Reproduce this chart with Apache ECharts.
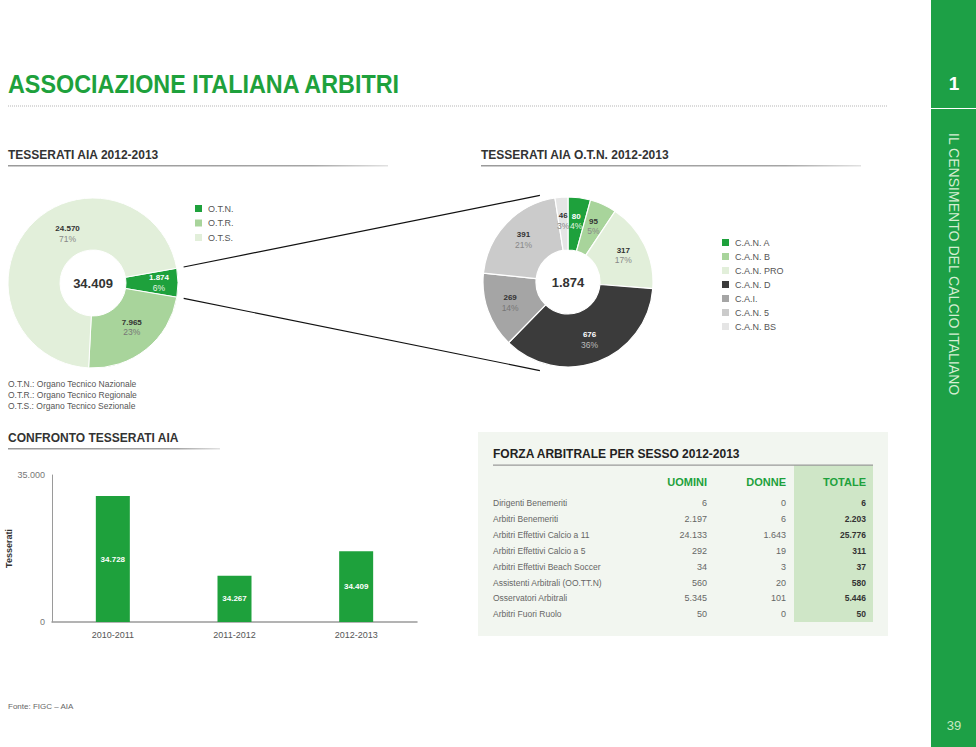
<!DOCTYPE html>
<html><head><meta charset="utf-8">
<script src="https://cdn.jsdelivr.net/npm/echarts@6/dist/echarts.min.js"></script>
<style>html,body{margin:0;padding:0;background:#fff}#c{width:976px;height:747px}</style>
</head><body><div id="c"></div>
<script>
// ---------- DATA ----------
const aiaCategories = ['O.T.N.', 'O.T.R.', 'O.T.S.'];
const aiaValues = [1874, 7965, 24570];
const otnCategories = ['C.A.N. A', 'C.A.N. B', 'C.A.N. PRO', 'C.A.N. D', 'C.A.I.', 'C.A.N. 5', 'C.A.N. BS'];
const otnValues = [80, 95, 317, 676, 269, 391, 46];
const seasonCategories = ['2010-2011', '2011-2012', '2012-2013'];
const seasonValues = [34728, 34267, 34409];
const yTickLabels = ['0', '35.000'];
const tableHeaders = ['UOMINI', 'DONNE', 'TOTALE'];
const tableRows = ['Dirigenti Benemeriti', 'Arbitri Benemeriti', 'Arbitri Effettivi Calcio a 11', 'Arbitri Effettivi Calcio a 5', 'Arbitri Effettivi Beach Soccer', 'Assistenti Arbitrali (OO.TT.N)', 'Osservatori Arbitrali', 'Arbitri Fuori Ruolo'];
const uominiValues = [6, 2197, 24133, 292, 34, 560, 5345, 50];
const donneValues = [0, 6, 1643, 19, 3, 20, 101, 0];
const totaleValues = [6, 2203, 25776, 311, 37, 580, 5446, 50];
const notes = ['O.T.N.: Organo Tecnico Nazionale', 'O.T.R.: Organo Tecnico Regionale', 'O.T.S.: Organo Tecnico Sezionale'];

// ---------- STYLE ----------
const FONT = "'Liberation Sans', Arial, Helvetica, sans-serif";
const GREEN = '#1ea13c';
const aiaColors = [GREEN, '#a8d49b', '#e2efda'];
const aiaLabelColors = [['#ffffff', '#e8f5e4'], ['#333333', '#777777'], ['#333333', '#888888']];
const aiaLabelShift = [[4, 0], [0, -4], [21, -8]];
const otnColors = [GREEN, '#a8d49b', '#e2efda', '#3b3b3b', '#a5a5a5', '#cbcbcb', '#e5e5e5'];
const otnLabelColors = [['#ffffff', '#e8f5e4'], ['#333333', '#888888'], ['#333333', '#888888'], ['#ffffff', '#bbbbbb'], ['#333333', '#777777'], ['#333333', '#888888'], ['#333333', '#888888']];
const P1 = { c: [93, 283], r: [33, 85] };
const P2 = { c: [568, 282], r: [32, 85] };

const fmt = v => String(v).replace(/\B(?=(\d{3})+(?!\d))/g, '.');
const sum = a => a.reduce((s, v) => s + v, 0);

function pieData(names, values, colors, lblColors) {
  return names.map((n, i) => ({
    name: n, value: values[i],
    itemStyle: { color: colors[i] },
    label: { rich: {
      v: { fontSize: 8, fontWeight: 'bold', color: lblColors[i][0], fontFamily: FONT, lineHeight: 10 },
      p: { fontSize: 8.5, color: lblColors[i][1], fontFamily: FONT, lineHeight: 10 }
    } }
  }));
}
const pieLabel = {
  show: true, position: 'inside',
  formatter: p => '{v|' + fmt(p.value) + '}\n{p|' + p.percent + '%}'
};

// ---------- GRAPHIC ----------
const g = [];

// sidebar
g.push({ type: 'rect', shape: { x: 931, y: 0, width: 45, height: 747 }, style: { fill: '#1da046' }, z: 0 });
g.push({ type: 'line', shape: { x1: 931, y1: 108.5, x2: 976, y2: 108.5 }, style: { stroke: '#ffffff', lineWidth: 1 } });
g.push({ type: 'text', x: 954, y: 83, style: { text: '1', font: 'bold 19px ' + FONT, fill: '#ffffff', textAlign: 'center', textVerticalAlign: 'middle' } });
g.push({ type: 'text', x: 954, y: 133, rotation: -Math.PI / 2, scaleX: 0.97, style: { text: 'IL CENSIMENTO DEL CALCIO ITALIANO', font: '14.5px ' + FONT, fill: '#d6eed2', textAlign: 'left', textVerticalAlign: 'middle' } });
g.push({ type: 'text', x: 954, y: 725, style: { text: '39', font: '13px ' + FONT, fill: '#c8e8c2', textAlign: 'center', textVerticalAlign: 'middle' } });

// title
g.push({ type: 'text', x: 8, y: 84, scaleX: 0.935, style: { text: 'ASSOCIAZIONE ITALIANA ARBITRI', font: 'bold 25px ' + FONT, fill: GREEN, textVerticalAlign: 'middle' } });
g.push({ type: 'line', shape: { x1: 8, y1: 106, x2: 888, y2: 106 }, style: { stroke: '#b5b5b5', lineWidth: 1, lineDash: [1, 1] } });

// section titles
function section(x, y, w, text) {
  g.push({ type: 'text', x: x, y: y, style: { text: text, font: 'bold 12px ' + FONT, fill: '#333333', textVerticalAlign: 'middle' } });
  g.push({ type: 'rect', shape: { x: x, y: y + 10, width: w, height: 1.5 }, style: { fill: new echarts.graphic.LinearGradient(0, 0, 1, 0, [{ offset: 0, color: '#9a9a9a' }, { offset: 0.8, color: '#a5a5a5' }, { offset: 1, color: '#e2e2e2' }]) } });
}
section(8, 155, 380, 'TESSERATI AIA 2012-2013');
section(481, 155, 380, 'TESSERATI AIA O.T.N. 2012-2013');
section(8, 438, 212, 'CONFRONTO TESSERATI AIA');

// notes and source
notes.forEach((n, i) => g.push({ type: 'text', x: 8, y: 384 + i * 11, style: { text: n, font: '8.5px ' + FONT, fill: '#555555', textVerticalAlign: 'middle' } }));
g.push({ type: 'text', x: 8, y: 706, style: { text: 'Fonte: FIGC – AIA', font: '8px ' + FONT, fill: '#666666', textVerticalAlign: 'middle' } });

// pie centre totals
g.push({ type: 'text', x: P1.c[0], y: P1.c[1], z: 10, style: { text: fmt(sum(aiaValues)), font: 'bold 13px ' + FONT, fill: '#333333', textAlign: 'center', textVerticalAlign: 'middle' } });
g.push({ type: 'text', x: P2.c[0], y: P2.c[1], z: 10, style: { text: fmt(sum(otnValues)), font: 'bold 13px ' + FONT, fill: '#333333', textAlign: 'center', textVerticalAlign: 'middle' } });

// connector lines from O.T.N. slice to second pie
(function () {
  const half = aiaValues[0] / sum(aiaValues) * Math.PI; // half slice angle (rad)
  const startA = 10 * Math.PI / 180;
  const mid = startA - half;
  const rOut = P1.r[1] + 7;
  const a1 = mid + half, a2 = mid - half;
  const s1 = [P1.c[0] + rOut * Math.cos(a1), P1.c[1] - rOut * Math.sin(a1)];
  const s2 = [P1.c[0] + rOut * Math.cos(a2), P1.c[1] - rOut * Math.sin(a2)];
  const r2 = P2.r[1] + 6, ang = 108 * Math.PI / 180;
  const e1 = [P2.c[0] + r2 * Math.cos(ang), P2.c[1] - r2 * Math.sin(ang)];
  const e2 = [P2.c[0] + r2 * Math.cos(-ang), P2.c[1] - r2 * Math.sin(-ang) + 2];
  g.push({ type: 'line', shape: { x1: s1[0], y1: s1[1], x2: e1[0], y2: e1[1] }, style: { stroke: '#111111', lineWidth: 1.2 } });
  g.push({ type: 'line', shape: { x1: s2[0], y1: s2[1], x2: e2[0], y2: e2[1] }, style: { stroke: '#111111', lineWidth: 1.2 } });
})();

// table
g.push({ type: 'rect', z: 0, shape: { x: 478, y: 432, width: 410, height: 204 }, style: { fill: '#f2f6f0' } });
g.push({ type: 'rect', z: 0, shape: { x: 794, y: 465, width: 79, height: 157 }, style: { fill: '#cfe6c7' } });
g.push({ type: 'text', x: 493, y: 454, style: { text: 'FORZA ARBITRALE PER SESSO 2012-2013', font: 'bold 12px ' + FONT, fill: '#222222', textVerticalAlign: 'middle' } });
g.push({ type: 'rect', shape: { x: 493, y: 464.5, width: 380, height: 1.2 }, style: { fill: '#9a9a9a' } });
const colX = [707, 786, 866];
tableHeaders.forEach((h, i) => g.push({ type: 'text', x: colX[i], y: 482, style: { text: h, font: 'bold 11px ' + FONT, fill: GREEN, textAlign: 'right', textVerticalAlign: 'middle' } }));
tableRows.forEach((r, i) => {
  const y = 503 + i * 15.9;
  g.push({ type: 'text', x: 493, y: y, style: { text: r, font: '8.5px ' + FONT, fill: '#666666', textVerticalAlign: 'middle' } });
  g.push({ type: 'text', x: colX[0], y: y, style: { text: fmt(uominiValues[i]), font: '9px ' + FONT, fill: '#666666', textAlign: 'right', textVerticalAlign: 'middle' } });
  g.push({ type: 'text', x: colX[1], y: y, style: { text: fmt(donneValues[i]), font: '9px ' + FONT, fill: '#666666', textAlign: 'right', textVerticalAlign: 'middle' } });
  g.push({ type: 'text', x: colX[2], y: y, style: { text: fmt(totaleValues[i]), font: 'bold 8.5px ' + FONT, fill: '#333333', textAlign: 'right', textVerticalAlign: 'middle' } });
});

// ---------- CHART ----------
const chart = echarts.init(document.getElementById('c'), null, { renderer: 'svg' });
const legendBase = {
  orient: 'vertical', icon: 'rect', itemWidth: 9, itemHeight: 9, padding: 0, selectedMode: false,
  textStyle: { fontSize: 9, color: '#555555', fontFamily: FONT, lineHeight: 9 }
};
chart.setOption({
  animation: false,
  textStyle: { fontFamily: FONT },
  graphic: { elements: g },
  legend: [
    Object.assign({}, legendBase, { data: aiaCategories, left: 193, top: 203, itemGap: 3.5 }),
    Object.assign({}, legendBase, { data: otnCategories, left: 720, top: 237, itemGap: 3 })
  ],
  grid: { left: 52, top: 475, width: 365, height: 147 },
  xAxis: {
    type: 'category', data: seasonCategories,
    axisLine: { lineStyle: { color: '#9a9a9a', width: 1.5 } },
    axisTick: { show: false },
    axisLabel: { fontSize: 9, color: '#555555', margin: 8 }
  },
  yAxis: {
    type: 'value', min: 34000, max: 34850, interval: 850,
    name: 'Tesserati', nameLocation: 'middle', nameGap: 36,
    nameTextStyle: { fontSize: 9, fontWeight: 'bold', color: '#333333' },
    axisLine: { show: true, lineStyle: { color: '#9a9a9a', width: 1 } },
    axisTick: { show: false }, splitLine: { show: false },
    axisLabel: { fontSize: 9, color: '#777777', margin: 7, formatter: (v, i) => yTickLabels[i] }
  },
  series: [
    {
      type: 'pie', center: P1.c, radius: P1.r, startAngle: 10, percentPrecision: 0,
      itemStyle: { borderColor: '#ffffff', borderWidth: 1 },
      label: pieLabel, labelLine: { show: false }, emphasis: { disabled: true },
      labelLayout: p => ({ dx: aiaLabelShift[p.dataIndex][0], dy: aiaLabelShift[p.dataIndex][1] }),
      data: pieData(aiaCategories, aiaValues, aiaColors, aiaLabelColors)
    },
    {
      type: 'pie', center: P2.c, radius: P2.r, startAngle: 90, percentPrecision: 0,
      itemStyle: { borderColor: '#ffffff', borderWidth: 1.2 },
      label: pieLabel, labelLine: { show: false }, emphasis: { disabled: true },
      data: pieData(otnCategories, otnValues, otnColors, otnLabelColors)
    },
    {
      type: 'bar', data: seasonValues, barWidth: 34,
      itemStyle: { color: GREEN },
      label: { show: true, position: 'inside', color: '#ffffff', fontWeight: 'bold', fontSize: 8, formatter: p => fmt(p.value) }
    }
  ]
});
</script></body></html>
